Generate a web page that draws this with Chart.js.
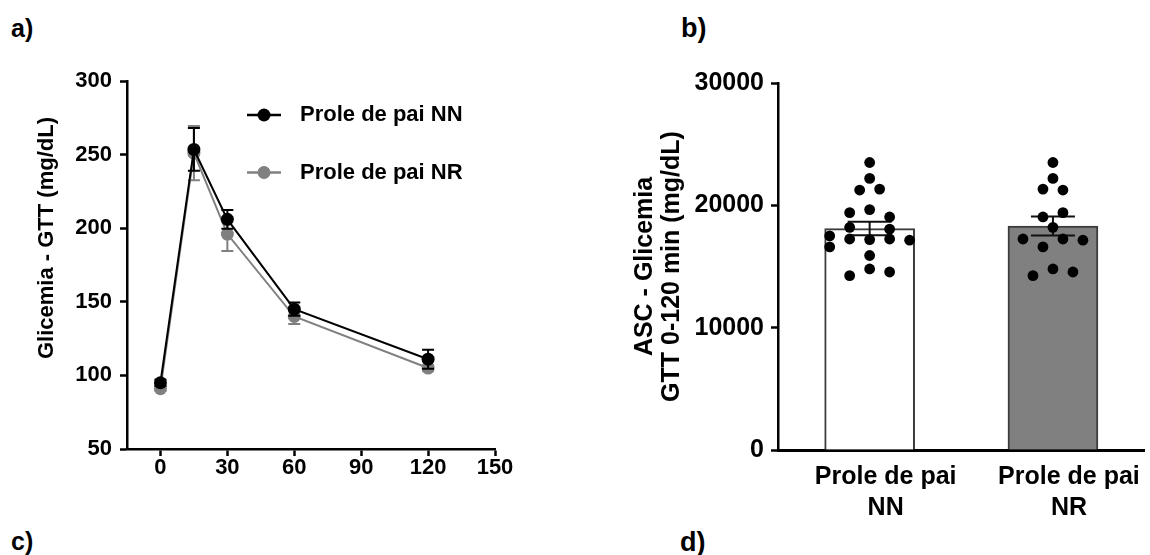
<!DOCTYPE html>
<html>
<head>
<meta charset="utf-8">
<script src="https://cdn.jsdelivr.net/npm/chart.js@4.4.1/dist/chart.umd.min.js"></script>
<style>
  body { margin: 0; background: #fff; width: 1150px; height: 555px; position: relative; overflow: hidden;
         font-family: "Liberation Sans", Arial, sans-serif; }
  .tag { position: absolute; font-weight: bold; line-height: 1; color: #000; }
  canvas { position: absolute; top: 0; }
</style>
</head>
<body>
<div class="tag" style="left:11px;top:16px;font-size:25px">a)</div>
<div class="tag" style="left:681px;top:15px;font-size:27px">b)</div>
<div class="tag" style="left:11px;top:529px;font-size:25px">c)</div>
<div class="tag" style="left:680px;top:529px;font-size:27px">d)</div>
<canvas id="gtt" width="560" height="555" style="left:0"></canvas>
<canvas id="auc" width="590" height="555" style="left:560px"></canvas>
<script>
// --- data: panel a (GTT) ---
const gttTimes = [0, 15, 30, 60, 120];
const nnGlicemia = [95, 253.5, 206, 145, 111];
const nnSem = [2, 14.5, 6.4, 4.5, 6.5];
const nrGlicemia = [91, 251, 196, 140, 105];
const nrSem = [1.5, 18.4, 11.5, 5, 2];
const gttXTicks = [0, 30, 60, 90, 120, 150];

// --- data: panel b (ASC) ---
const aucLabels = [['Prole de pai', 'NN'], ['Prole de pai', 'NR']];
const aucMeans = [18100, 18310];
const aucSem = [550, 780];
const aucNN = [23500, 22200, 21250, 21330, 19400, 19650, 19050, 18200, 18050, 17500,
               16600, 17250, 17200, 17250, 17150, 15900, 14250, 14800, 14550];
const colNN = [0, 0, -0.5, 0.5, -1, 0, 1, -1, 1, -2, -2, -1, 0, 1, 2, 0, -1, 0, 1];
const aucNR = [23500, 22200, 21330, 21250, 19050, 19400, 18200, 17250, 17250, 17150,
               16600, 14800, 14250, 14550];
const colNR = [0, 0, -0.5, 0.5, -0.5, 0.5, 0, -1.5, 0.5, 1.5, -0.5, 0, -1, 1];

const FONT = 'Liberation Sans, Arial, sans-serif';
Chart.defaults.font.family = FONT;
Chart.defaults.font.weight = 'bold';
Chart.defaults.color = '#000';
const DOT_COL = 0.109; // beeswarm column width in x units

// mean ± SEM bars, drawn under or over their dataset
function drawErrors(chart, meta) {
  const ds = chart.data.datasets[meta.index];
  if (!ds.errors) return;
  const ctx = chart.ctx, ys = chart.scales[meta.yAxisID];
  ctx.save();
  ctx.strokeStyle = ds.errorColor;
  ctx.lineWidth = ds.errorWidth;
  meta.data.forEach((el, i) => {
    const p = meta.controller.getParsed(i);
    const top = ys.getPixelForValue(p.y + ds.errors[i]);
    const bot = ys.getPixelForValue(p.y - ds.errors[i]);
    const c = ds.errorCap;
    ctx.beginPath();
    ctx.moveTo(el.x, top); ctx.lineTo(el.x, bot);
    ctx.moveTo(el.x - c, top); ctx.lineTo(el.x + c, top);
    ctx.moveTo(el.x - c, bot); ctx.lineTo(el.x + c, bot);
    ctx.stroke();
  });
  ctx.restore();
}
const errorBars = {
  id: 'errorBars',
  beforeDatasetDraw(chart, args) { if (chart.data.datasets[args.index].errorLayer === 'under') drawErrors(chart, args.meta); },
  afterDatasetDraw(chart, args) { if (chart.data.datasets[args.index].errorLayer === 'over') drawErrors(chart, args.meta); }
};

const lineLegend = {
  id: 'lineLegend',
  afterDraw(chart, args, o) {
    const ctx = chart.ctx;
    ctx.save();
    chart.data.datasets.forEach((ds, i) => {
      const y = o.y + i * o.rowGap;
      ctx.strokeStyle = ds.borderColor;
      ctx.lineWidth = o.lineWidth;
      ctx.beginPath(); ctx.moveTo(o.x, y); ctx.lineTo(o.x + o.lineLen, y); ctx.stroke();
      ctx.fillStyle = ds.pointBackgroundColor;
      ctx.beginPath(); ctx.arc(o.x + o.lineLen / 2, y, ds.pointRadius, 0, Math.PI * 2); ctx.fill();
      ctx.fillStyle = '#000';
      ctx.font = o.font;
      ctx.textAlign = 'left';
      ctx.textBaseline = 'middle';
      ctx.fillText(ds.label, o.textX, y);
    });
    ctx.restore();
  }
};

const yTitle = {
  id: 'yTitle',
  afterDraw(chart, args, o) {
    const ctx = chart.ctx;
    ctx.save();
    ctx.translate(o.x, o.y);
    ctx.rotate(-Math.PI / 2);
    ctx.font = o.font;
    ctx.fillStyle = '#000';
    ctx.textAlign = 'center';
    ctx.textBaseline = 'middle';
    ctx.fillText(o.text, 0, 0);
    ctx.restore();
  }
};

const axisGrid = { drawOnChartArea: false, tickLength: 7, tickColor: '#000', tickWidth: 2.5 };
const axisBorder = { color: '#000', width: 2.5 };

new Chart(document.getElementById('gtt'), {
  type: 'line',
  data: {
    datasets: [
      {
        label: 'Prole de pai NN',
        data: gttTimes.map((t, i) => ({ x: t, y: nnGlicemia[i] })),
        errors: nnSem, errorLayer: 'under', errorColor: '#000', errorWidth: 2, errorCap: 6,
        borderColor: '#000', borderWidth: 2,
        pointBackgroundColor: '#000', pointBorderWidth: 0, pointRadius: 6.5
      },
      {
        label: 'Prole de pai NR',
        data: gttTimes.map((t, i) => ({ x: t, y: nrGlicemia[i] })),
        errors: nrSem, errorLayer: 'under', errorColor: '#808080', errorWidth: 2, errorCap: 6,
        borderColor: '#808080', borderWidth: 2,
        pointBackgroundColor: '#808080', pointBorderWidth: 0, pointRadius: 6.5
      }
    ]
  },
  options: {
    responsive: false,
    devicePixelRatio: 1,
    animation: false,
    events: [],
    layout: { padding: { top: 81, right: 65, left: 0, bottom: 0 } },
    plugins: {
      legend: { display: false },
      tooltip: { enabled: false },
      lineLegend: { x: 247, y: 115, rowGap: 57.5, lineLen: 34, lineWidth: 2.5, textX: 300, font: 'bold 22px ' + FONT },
      yTitle: { text: 'Glicemia - GTT (mg/dL)', x: 47, y: 238, font: 'bold 22px ' + FONT }
    },
    scales: {
      x: {
        type: 'linear', min: -15, max: 150,
        afterBuildTicks: s => { s.ticks = gttXTicks.map(v => ({ value: v })); },
        afterFit: s => { s.height = 106; },
        grid: axisGrid, border: axisBorder,
        ticks: { font: { size: 22, lineHeight: 1 }, padding: 1 }
      },
      y: {
        min: 50, max: 300,
        afterFit: s => { s.width = 127; },
        grid: axisGrid, border: axisBorder,
        ticks: { stepSize: 50, font: { size: 22 }, padding: 8 }
      }
    }
  },
  plugins: [errorBars, lineLegend, yTitle]
});

new Chart(document.getElementById('auc'), {
  type: 'bar',
  data: {
    datasets: [
      {
        type: 'scatter', order: 0,
        data: aucNN.map((v, i) => ({ x: 1 + colNN[i] * DOT_COL, y: v }))
          .concat(aucNR.map((v, i) => ({ x: 2 + colNR[i] * DOT_COL, y: v }))),
        pointRadius: 5.4, pointBorderWidth: 0, pointBackgroundColor: '#000'
      },
      {
        order: 1,
        data: aucMeans.map((v, i) => ({ x: i + 1, y: v })),
        errors: aucSem, errorLayer: 'over', errorColor: '#111', errorWidth: 2, errorCap: 22,
        backgroundColor: ['#ffffff', '#808080'],
        borderColor: '#3c3c3c', borderWidth: 2,
        barThickness: 90
      }
    ]
  },
  options: {
    responsive: false,
    devicePixelRatio: 1,
    animation: false,
    events: [],
    layout: { padding: { top: 83, right: 3, left: 0, bottom: 0 } },
    plugins: { legend: { display: false }, tooltip: { enabled: false } },
    scales: {
      x: {
        type: 'linear', min: 0.5, max: 2.5, offset: false,
        afterBuildTicks: s => { s.ticks = aucLabels.map((_, i) => ({ value: i + 1 })); },
        afterFit: s => { s.height = 105; },
        grid: { display: false, drawTicks: false, tickLength: 0 },
        border: { color: '#000', width: 3 },
        ticks: {
          font: { size: 25, lineHeight: 1.25 }, padding: 11, labelOffset: 16, maxRotation: 0,
          callback: (v, i) => aucLabels[i]
        }
      },
      y: {
        min: 0, max: 30000,
        afterFit: s => { s.width = 218; },
        grid: axisGrid, border: axisBorder,
        title: {
          display: true, text: ['ASC - Glicemia', 'GTT 0-120 min (mg/dL)'],
          font: { size: 25, lineHeight: 1.07 }, padding: { top: 72, bottom: 0 }
        },
        ticks: { stepSize: 10000, font: { size: 25 }, padding: 7, callback: v => String(v) }
      }
    }
  },
  plugins: [errorBars]
});
</script>
</body>
</html>
